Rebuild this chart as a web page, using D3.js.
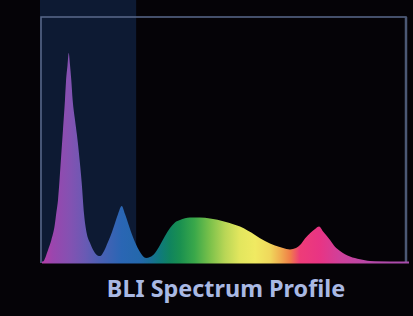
<!DOCTYPE html>
<html>
<head>
<meta charset="utf-8">
<script src="https://cdn.jsdelivr.net/npm/d3@7"></script>
<style>
  html, body { margin: 0; padding: 0; background: #050307; }
  svg { display: block; }
</style>
</head>
<body>
<script>
const width = 413
const height = 316

// wavelength (nm) and relative intensity (%)
const wavelengths = [380, 382.2, 387.7, 391.3, 395, 396.7, 398.6, 401.9, 404, 406.2, 407.3, 409, 410.3,
    411.7, 413.1, 414.6, 417.2, 419.3, 421.9, 424.5, 427, 429.9, 433.6, 439, 444.5,
    448.9, 453.2, 457.6, 460.9, 464.2, 468.2, 471.8, 475.1, 478.4, 482.7, 488.2, 494.8,
    499.1, 504.6, 510.1, 515.5, 521, 526.4, 531.9, 542.8, 553.8, 564.7, 581.1, 597.5, 613.9,
    624.8, 635.7, 644.5, 652.1, 658.7, 663.1, 668.5, 674, 679.5, 683.9, 688.5, 695.9, 701.3, 706.8,
    717.7, 728.6, 745, 761.4, 780]
const intensity = [0, 0.4, 5.3, 9.3, 15.4, 20.3, 25.6, 42.7, 54.1, 66.3, 73.6, 80.5, 85.4,
    80.5, 74.4, 66.3, 58, 52, 43, 32.5, 20, 12.2, 8.1, 4.1, 2.8,
    4.9, 8.5, 12.6, 16.3, 19.9, 23.2, 19.9, 16.3, 12.6, 8.5, 4.5, 2.0,
    2.4, 4.1, 7.3, 11.0, 14.2, 16.5, 17.5, 18.5, 18.5, 18.1, 16.8, 14.8, 11.4,
    8.9, 7.1, 6.1, 5.5, 6.1, 7.3, 10.0, 12.1, 13.8, 14.8, 12.7, 9.3, 6.6, 4.9,
    2.6, 1.5, 0.6, 0.4, 0.4]

// highlighted blue-light band
const band = [380, 484]

// colour of the fill along the wavelength axis
const stopNm = [380, 393, 412, 428, 444, 468, 488, 499, 510, 521, 532, 548, 564, 581, 597, 614, 630, 641, 652, 663, 685, 706, 739, 780]
const stopColor = ['#b83ca6', '#9a46ae', '#8352b2', '#6a5ab4', '#4c60b4', '#2a66b4', '#2468ac', '#1a6e98', '#0f7a7c', '#10845e', '#1a9050', '#3aa84a', '#78c04a', '#b8d656', '#e2e65e', '#f0ea62', '#f0d85c', '#f0b050', '#f08048', '#ee3c78', '#e83484', '#d0409a', '#b648a8', '#a84cac']

const title = 'BLI Spectrum Profile'

const svg = d3.select('body').append('svg')
    .attr('width', width)
    .attr('height', height)

const x = d3.scaleLinear().domain([380, 780]).range([41, 407])
const y = d3.scaleLinear().domain([0, 100]).range([263, 17])

const data = wavelengths.map((w, i) => ({w: w, v: intensity[i]}))

// gradient
const grad = svg.append('defs').append('linearGradient')
    .attr('id', 'spec')
    .attr('gradientUnits', 'userSpaceOnUse')
    .attr('x1', x(380)).attr('x2', x(780))
    .attr('y1', 0).attr('y2', 0)
grad.selectAll('stop')
    .data(stopNm)
    .join('stop')
    .attr('offset', d => (d - 380) / 400)
    .attr('stop-color', (d, i) => stopColor[i])

// blue band
svg.append('rect')
    .attr('x', x(band[0]) - 1)
    .attr('y', 0)
    .attr('width', x(band[1]) - x(band[0]) + 1)
    .attr('height', y(0))
    .style('fill', '#0d1a33')

// frame
svg.append('path')
    .attr('d', `M${x(380)},${y(0)}V${y(100)}H${x(780) - 1}V${y(0)}`)
    .style('fill', 'none')
    .style('stroke', '#5a6a8c')
    .style('stroke-width', 1.5)
svg.append('line')
    .attr('x1', x(780) - 1).attr('x2', x(780) - 1)
    .attr('y1', y(100)).attr('y2', y(0))
    .style('stroke', '#4c5874')
    .style('stroke-width', 2.5)

// spectrum area
const area = d3.area()
    .x(d => x(d.w))
    .y0(y(0))
    .y1(d => y(d.v))
    .curve(d3.curveMonotoneX)

svg.append('path')
    .datum(data)
    .attr('d', area)
    .style('fill', 'url(#spec)')

// coloured baseline
svg.append('rect')
    .attr('x', x(380) + 1)
    .attr('y', y(0) - 1.5)
    .attr('width', x(780) - x(380) + 1)
    .attr('height', 2)
    .style('fill', 'url(#spec)')

// title
svg.append('text')
    .attr('x', 226)
    .attr('y', 297)
    .attr('text-anchor', 'middle')
    .style('font-family', '"Noto Sans", sans-serif')
    .style('font-weight', 'bold')
    .style('font-size', '23.4px')
    .style('fill', '#a9b9e3')
    .text(title)
</script>
</body>
</html>
